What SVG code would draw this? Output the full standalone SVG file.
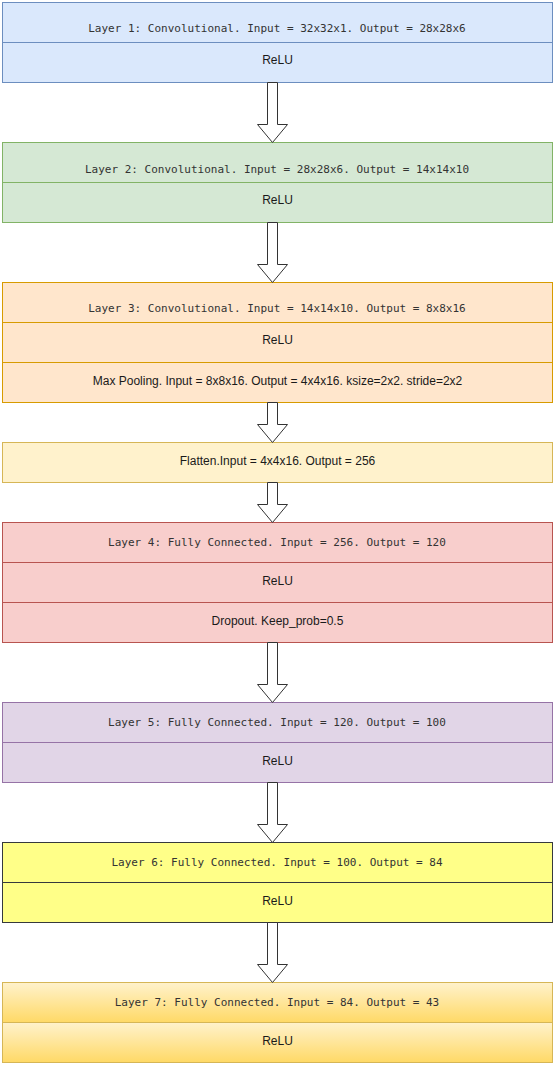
<svg xmlns="http://www.w3.org/2000/svg" width="555" height="1065" viewBox="0 0 555 1065">
<style>
.hd{font-family:"DejaVu Sans Mono","Liberation Mono",monospace;font-size:11px;fill:#333;text-anchor:middle}
.tx{font-family:"Liberation Sans",Arial,sans-serif;font-size:12px;fill:#1a1a1a;text-anchor:middle}
.arr{fill:#ffffff;stroke:#333333;stroke-width:1;stroke-linejoin:miter}
.b1{fill:#dae8fc;stroke:#6c8ebf}
.b2{fill:#d5e8d4;stroke:#82b366}
.b3{fill:#ffe6cc;stroke:#d79b00}
.b4{fill:#fff2cc;stroke:#d6b656}
.b5{fill:#f8cecc;stroke:#b85450}
.b6{fill:#e1d5e7;stroke:#9673a6}
.b7{fill:#ffff88;stroke:#36393d}
.b8{fill:url(#g7);stroke:#d6b656}
</style>
<defs>
<linearGradient id="g7" x1="0" y1="0" x2="0" y2="1">
<stop offset="0" stop-color="#fff2cc"/>
<stop offset="1" stop-color="#ffd966"/>
</linearGradient>
</defs>
<g id="layer1">
<rect class="b1" x="2.5" y="2.5" width="550" height="40"/>
<rect class="b1" x="2.5" y="42.5" width="550" height="40"/>
<text class="hd" x="277" y="31.5">Layer 1: Convolutional. Input = 32x32x1. Output = 28x28x6</text>
<text class="tx" x="277.5" y="64">ReLU</text>
</g>
<g id="layer2">
<rect class="b2" x="2.5" y="142.5" width="550" height="40"/>
<rect class="b2" x="2.5" y="182.5" width="550" height="40"/>
<text class="hd" x="277" y="172.5">Layer 2: Convolutional. Input = 28x28x6. Output = 14x14x10</text>
<text class="tx" x="277.5" y="204">ReLU</text>
</g>
<g id="layer3">
<rect class="b3" x="2.5" y="282.5" width="550" height="40"/>
<rect class="b3" x="2.5" y="322.5" width="550" height="40"/>
<rect class="b3" x="2.5" y="362.5" width="550" height="40"/>
<text class="hd" x="277" y="312">Layer 3: Convolutional. Input = 14x14x10. Output = 8x8x16</text>
<text class="tx" x="277.5" y="344">ReLU</text>
<text class="tx" x="277.5" y="384.5">Max Pooling. Input = 8x8x16. Output = 4x4x16. ksize=2x2. stride=2x2</text>
</g>
<g id="flatten">
<rect class="b4" x="2.5" y="442.5" width="550" height="40"/>
<text class="tx" x="277.5" y="465">Flatten.Input = 4x4x16. Output = 256</text>
</g>
<g id="layer4">
<rect class="b5" x="2.5" y="522.5" width="550" height="40"/>
<rect class="b5" x="2.5" y="562.5" width="550" height="40"/>
<rect class="b5" x="2.5" y="602.5" width="550" height="40"/>
<text class="hd" x="277" y="546">Layer 4: Fully Connected. Input = 256. Output = 120</text>
<text class="tx" x="277.5" y="584.5">ReLU</text>
<text class="tx" x="277.5" y="624.5">Dropout. Keep_prob=0.5</text>
</g>
<g id="layer5">
<rect class="b6" x="2.5" y="702.5" width="550" height="40"/>
<rect class="b6" x="2.5" y="742.5" width="550" height="40"/>
<text class="hd" x="277" y="726">Layer 5: Fully Connected. Input = 120. Output = 100</text>
<text class="tx" x="277.5" y="764.5">ReLU</text>
</g>
<g id="layer6">
<rect class="b7" x="2.5" y="842.5" width="550" height="40"/>
<rect class="b7" x="2.5" y="882.5" width="550" height="40"/>
<text class="hd" x="277" y="866">Layer 6: Fully Connected. Input = 100. Output = 84</text>
<text class="tx" x="277.5" y="904.5">ReLU</text>
</g>
<g id="layer7">
<rect class="b8" x="2.5" y="982.5" width="550" height="40"/>
<rect class="b8" x="2.5" y="1022.5" width="550" height="40"/>
<text class="hd" x="277" y="1006">Layer 7: Fully Connected. Input = 84. Output = 43</text>
<text class="tx" x="277.5" y="1044.5">ReLU</text>
</g>
<g id="connectors">
<path class="arr" d="M267.5 82.5 V124.5 H257.5 L272.5 142.5 L287.5 124.5 H277.5 V82.5 Z"/>
<path class="arr" d="M267.5 222.5 V264.5 H257.5 L272.5 282.5 L287.5 264.5 H277.5 V222.5 Z"/>
<path class="arr" d="M267.5 402.5 V424.5 H257.5 L272.5 442.5 L287.5 424.5 H277.5 V402.5 Z"/>
<path class="arr" d="M267.5 482.5 V504.5 H257.5 L272.5 522.5 L287.5 504.5 H277.5 V482.5 Z"/>
<path class="arr" d="M267.5 642.5 V684.5 H257.5 L272.5 702.5 L287.5 684.5 H277.5 V642.5 Z"/>
<path class="arr" d="M267.5 782.5 V824.5 H257.5 L272.5 842.5 L287.5 824.5 H277.5 V782.5 Z"/>
<path class="arr" d="M267.5 922.5 V964.5 H257.5 L272.5 982.5 L287.5 964.5 H277.5 V922.5 Z"/>
</g>
</svg>
